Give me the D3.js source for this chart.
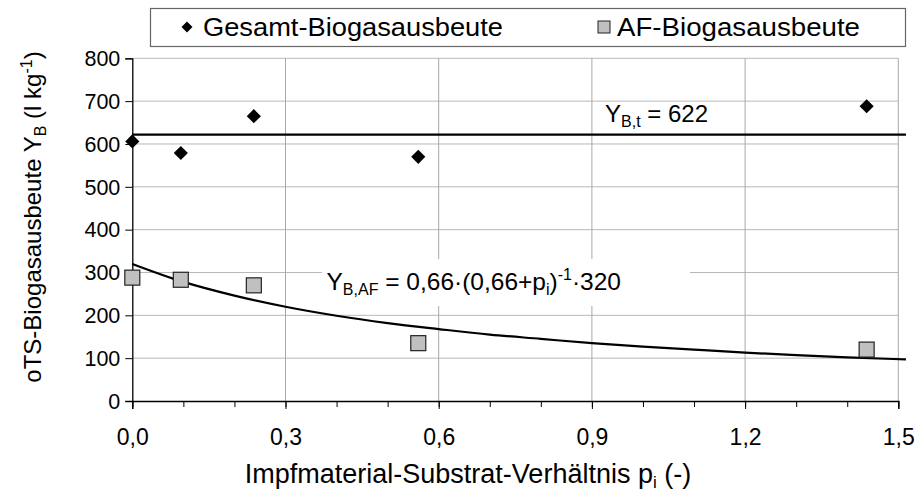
<!DOCTYPE html>
<html>
<head>
<meta charset="utf-8">
<script src="https://cdn.jsdelivr.net/npm/d3@7"></script>
<style>
  html, body { margin: 0; padding: 0; background: #fff; }
  svg { display: block; font-family: "Liberation Sans", Arial, sans-serif; }
</style>
</head>
<body>
<svg id="chart" width="918" height="493"></svg>
<script>
// ---- data ----
const pValues = [0.0, 0.095, 0.238, 0.56, 1.438];
const gesamtYield = [606, 579, 665, 570, 688];
const afYield = [288, 283, 270, 135, 120];
const theoreticalYield = 622;
const fitP = [0.0, 0.1, 0.2, 0.3, 0.4, 0.5, 0.6, 0.7, 0.8, 0.9, 1.0, 1.1, 1.2, 1.3, 1.4, 1.515];
const fitY = [320, 278, 246, 220, 199, 182, 168, 155, 145, 135, 127, 120, 113, 107, 102, 97];
const xTicks = [0.0, 0.3, 0.6, 0.9, 1.2, 1.5];
const xMinorTicks = [0.0, 0.1, 0.2, 0.3, 0.4, 0.5, 0.6, 0.7, 0.8, 0.9, 1.0, 1.1, 1.2, 1.3, 1.4, 1.5];
const yTicks = [0, 100, 200, 300, 400, 500, 600, 700, 800];
const legendLabels = ["Gesamt-Biogasausbeute", "AF-Biogasausbeute"];

const svg = d3.select("#chart");
const X0 = 132.3, X1 = 898.3, Y0 = 401, Y1 = 58.3;
const x = d3.scaleLinear().domain([0, 1.5]).range([X0, X1]);
const y = d3.scaleLinear().domain([0, 800]).range([Y0, Y1]);
const fmt = d => d3.format(".1f")(d).replace(".", ",");

// grid
const grid = svg.append("g");
grid.selectAll("line.h").data(yTicks.filter(d => d > 0)).join("line")
  .attr("x1", X0).attr("x2", X1).attr("y1", d => y(d)).attr("y2", d => y(d))
  .attr("stroke", "#b8b8b8").attr("stroke-width", 1);
grid.selectAll("line.v").data(xTicks.filter(d => d > 0)).join("line")
  .attr("x1", d => x(d)).attr("x2", d => x(d)).attr("y1", Y1).attr("y2", Y0)
  .attr("stroke", "#a8a8a8").attr("stroke-width", 1);

// axes
const yAxis = d3.axisLeft(y).tickValues(yTicks).tickSize(7).tickPadding(5).tickFormat(d3.format("d"));
const gy = svg.append("g").attr("transform", `translate(${X0},0)`).call(yAxis);
gy.select(".domain").attr("stroke", "#000").attr("stroke-width", 1.3);
gy.selectAll(".tick line").attr("stroke", "#000");
gy.selectAll(".tick text").attr("font-size", 21.5).attr("fill", "#000")
  .attr("font-family", "Liberation Sans, Arial, sans-serif").attr("dy", "0.34em");

const xMinor = d3.axisBottom(x).tickValues(xMinorTicks).tickSize(6).tickFormat("");
const gxm = svg.append("g").attr("transform", `translate(0,${Y0})`).call(xMinor);
gxm.select(".domain").remove();
gxm.selectAll(".tick line").attr("stroke", "#000");

const xAxis = d3.axisBottom(x).tickValues(xTicks).tickSize(8).tickPadding(20).tickFormat(fmt);
const gx = svg.append("g").attr("transform", `translate(0,${Y0})`).call(xAxis);
gx.select(".domain").attr("stroke", "#000").attr("stroke-width", 1.3);
gx.selectAll(".tick line").attr("stroke", "#000");
gx.selectAll(".tick text").attr("font-size", 23).attr("fill", "#000")
  .attr("font-family", "Liberation Sans, Arial, sans-serif");

// axis titles
svg.append("text").attr("x", 468).attr("y", 483).attr("text-anchor", "middle")
  .attr("font-size", 27).attr("fill", "#000")
  .html('Impfmaterial-Substrat-Verhältnis p<tspan font-size="17" dy="5">i</tspan><tspan dy="-5"> (-)</tspan>');

svg.append("text").attr("transform", "translate(41,217) rotate(-90)").attr("text-anchor", "middle")
  .attr("font-size", 24).attr("fill", "#000")
  .html('oTS-Biogasausbeute Y<tspan font-size="16" dy="5">B</tspan><tspan dy="-5"> (l kg</tspan><tspan font-size="16" dy="-9">-1</tspan><tspan dy="9">)</tspan>');

// theoretical line
svg.append("line").attr("x1", x(0)).attr("x2", x(1.515))
  .attr("y1", y(theoreticalYield)).attr("y2", y(theoreticalYield))
  .attr("stroke", "#000").attr("stroke-width", 2.2);

// fit curve
const fitData = fitP.map((p, i) => [p, fitY[i]]);
svg.append("path").datum(fitData)
  .attr("d", d3.line().x(d => x(d[0])).y(d => y(d[1])).curve(d3.curveMonotoneX))
  .attr("fill", "none").attr("stroke", "#000").attr("stroke-width", 2.2);

// formula label with white box
svg.append("rect").attr("x", 322).attr("y", 259).attr("width", 368).attr("height", 47).attr("fill", "#fff");
svg.append("text").attr("x", 326.5).attr("y", 290).attr("font-size", 24.5).attr("fill", "#000")
  .html('Y<tspan font-size="16" dy="5">B,AF</tspan><tspan dy="-5"> = 0,66·(0,66+p</tspan><tspan font-size="16" dy="5">i</tspan><tspan dy="-5">)</tspan><tspan font-size="16" dy="-10">-1</tspan><tspan dy="10">·320</tspan>');

svg.append("text").attr("x", 605).attr("y", 121.5).attr("font-size", 24).attr("fill", "#000")
  .html('Y<tspan font-size="16" dy="5">B,t</tspan><tspan dy="-5"> = 622</tspan>');

// markers
const gesamtData = pValues.map((p, i) => [p, gesamtYield[i]]);
const afData = pValues.map((p, i) => [p, afYield[i]]);

svg.append("g").selectAll("rect").data(afData).join("rect")
  .attr("x", d => x(d[0]) - 7.5).attr("y", d => y(d[1]) - 7.5)
  .attr("width", 15).attr("height", 15)
  .attr("fill", "#c0c0c0").attr("stroke", "#222").attr("stroke-width", 1.2);

svg.append("g").selectAll("path").data(gesamtData).join("path")
  .attr("transform", d => `translate(${x(d[0])},${y(d[1])}) rotate(45)`)
  .attr("d", d3.symbol().type(d3.symbolSquare).size(100))
  .attr("fill", "#000");

// legend
const lg = svg.append("g");
lg.append("rect").attr("x", 150.5).attr("y", 8.5).attr("width", 755).attr("height", 38)
  .attr("fill", "#fff").attr("stroke", "#666").attr("stroke-width", 1.2);
lg.append("path").attr("transform", "translate(187,27) rotate(45)")
  .attr("d", d3.symbol().type(d3.symbolSquare).size(60)).attr("fill", "#000");
lg.append("text").attr("x", 203).attr("y", 36).attr("font-size", 25.5).attr("fill", "#000")
  .attr("textLength", 300).attr("lengthAdjust", "spacingAndGlyphs").text(legendLabels[0]);
lg.append("rect").attr("x", 598).attr("y", 21).attr("width", 12).attr("height", 12)
  .attr("fill", "#c0c0c0").attr("stroke", "#222").attr("stroke-width", 1);
lg.append("text").attr("x", 617).attr("y", 36).attr("font-size", 25.5).attr("fill", "#000")
  .attr("textLength", 243).attr("lengthAdjust", "spacingAndGlyphs").text(legendLabels[1]);
</script>
</body>
</html>
